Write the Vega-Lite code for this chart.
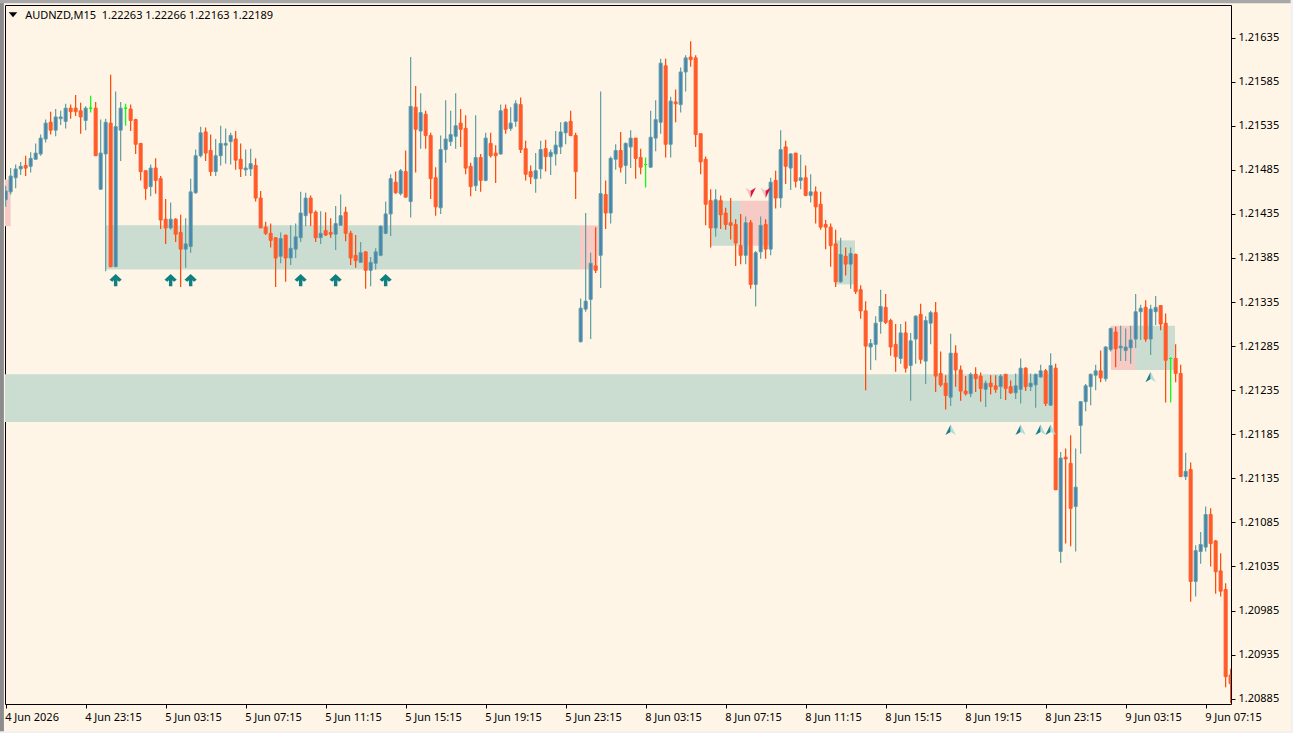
{
  "$schema": "https://vega.github.io/schema/vega-lite/v6.json",
  "description": "AUDNZD M15 candles",
  "autosize": "none",
  "width": 1226,
  "height": 699,
  "padding": {"left": 5, "top": 5, "right": 62, "bottom": 29},
  "background": "#FEF5E7",
  "config": {
    "view": {"stroke": "#000000", "strokeWidth": 1},
    "font": "Noto Sans",
    "axis": {"labelFont": "Noto Sans", "labelFontSize": 11, "labelColor": "#000000", "tickColor": "#000000", "domain": false, "grid": false, "title": null}
  },
  "datasets": {
    "candles": [
      {"bar":0,"open":1.21451,"high":1.21467,"low":1.21443,"close":1.21461,"dir":"up"},
      {"bar":1,"open":1.21460,"high":1.21487,"low":1.21457,"close":1.21478,"dir":"up"},
      {"bar":2,"open":1.21476,"high":1.21491,"low":1.21464,"close":1.21486,"dir":"up"},
      {"bar":3,"open":1.21486,"high":1.21494,"low":1.21479,"close":1.21489,"dir":"up"},
      {"bar":4,"open":1.21490,"high":1.21501,"low":1.21478,"close":1.21487,"dir":"down"},
      {"bar":5,"open":1.21489,"high":1.21505,"low":1.21482,"close":1.21498,"dir":"up"},
      {"bar":6,"open":1.21497,"high":1.21515,"low":1.21497,"close":1.21504,"dir":"up"},
      {"bar":7,"open":1.21503,"high":1.21525,"low":1.21501,"close":1.21521,"dir":"up"},
      {"bar":8,"open":1.21520,"high":1.21542,"low":1.21516,"close":1.21538,"dir":"up"},
      {"bar":9,"open":1.21539,"high":1.21551,"low":1.21525,"close":1.21530,"dir":"down"},
      {"bar":10,"open":1.21530,"high":1.21554,"low":1.21523,"close":1.21545,"dir":"up"},
      {"bar":11,"open":1.21543,"high":1.21552,"low":1.21536,"close":1.21545,"dir":"up"},
      {"bar":12,"open":1.21540,"high":1.21560,"low":1.21532,"close":1.21555,"dir":"up"},
      {"bar":13,"open":1.21555,"high":1.21559,"low":1.21543,"close":1.21551,"dir":"down"},
      {"bar":14,"open":1.21555,"high":1.21570,"low":1.21546,"close":1.21551,"dir":"down"},
      {"bar":15,"open":1.21552,"high":1.21561,"low":1.21526,"close":1.21545,"dir":"down"},
      {"bar":16,"open":1.21541,"high":1.21557,"low":1.21530,"close":1.21555,"dir":"up"},
      {"bar":17,"open":1.21555,"high":1.21569,"low":1.21550,"close":1.21555,"dir":"doji"},
      {"bar":18,"open":1.21555,"high":1.21562,"low":1.21501,"close":1.21501,"dir":"down"},
      {"bar":19,"open":1.21463,"high":1.21542,"low":1.21462,"close":1.21504,"dir":"up"},
      {"bar":20,"open":1.21503,"high":1.21543,"low":1.21370,"close":1.21539,"dir":"up"},
      {"bar":21,"open":1.21538,"high":1.21593,"low":1.21375,"close":1.21375,"dir":"down"},
      {"bar":22,"open":1.21375,"high":1.21574,"low":1.21375,"close":1.21534,"dir":"up"},
      {"bar":23,"open":1.21530,"high":1.21562,"low":1.21495,"close":1.21555,"dir":"up"},
      {"bar":24,"open":1.21555,"high":1.21560,"low":1.21535,"close":1.21555,"dir":"doji"},
      {"bar":25,"open":1.21554,"high":1.21559,"low":1.21529,"close":1.21541,"dir":"down"},
      {"bar":26,"open":1.21542,"high":1.21543,"low":1.21503,"close":1.21514,"dir":"down"},
      {"bar":27,"open":1.21515,"high":1.21515,"low":1.21473,"close":1.21483,"dir":"down"},
      {"bar":28,"open":1.21484,"high":1.21484,"low":1.21451,"close":1.21464,"dir":"down"},
      {"bar":29,"open":1.21466,"high":1.21491,"low":1.21455,"close":1.21487,"dir":"up"},
      {"bar":30,"open":1.21487,"high":1.21498,"low":1.21458,"close":1.21473,"dir":"down"},
      {"bar":31,"open":1.21475,"high":1.21478,"low":1.21418,"close":1.21428,"dir":"down"},
      {"bar":32,"open":1.21429,"high":1.21452,"low":1.21401,"close":1.21419,"dir":"down"},
      {"bar":33,"open":1.21419,"high":1.21448,"low":1.21417,"close":1.21429,"dir":"up"},
      {"bar":34,"open":1.21429,"high":1.21430,"low":1.21403,"close":1.21412,"dir":"down"},
      {"bar":35,"open":1.21414,"high":1.21434,"low":1.21352,"close":1.21395,"dir":"down"},
      {"bar":36,"open":1.21395,"high":1.21430,"low":1.21374,"close":1.21401,"dir":"up"},
      {"bar":37,"open":1.21398,"high":1.21475,"low":1.21391,"close":1.21460,"dir":"up"},
      {"bar":38,"open":1.21459,"high":1.21508,"low":1.21458,"close":1.21501,"dir":"up"},
      {"bar":39,"open":1.21501,"high":1.21534,"low":1.21499,"close":1.21527,"dir":"up"},
      {"bar":40,"open":1.21528,"high":1.21533,"low":1.21495,"close":1.21504,"dir":"down"},
      {"bar":41,"open":1.21507,"high":1.21525,"low":1.21478,"close":1.21483,"dir":"down"},
      {"bar":42,"open":1.21483,"high":1.21520,"low":1.21478,"close":1.21501,"dir":"up"},
      {"bar":43,"open":1.21501,"high":1.21535,"low":1.21490,"close":1.21515,"dir":"up"},
      {"bar":44,"open":1.21513,"high":1.21532,"low":1.21492,"close":1.21515,"dir":"up"},
      {"bar":45,"open":1.21517,"high":1.21527,"low":1.21491,"close":1.21524,"dir":"up"},
      {"bar":46,"open":1.21520,"high":1.21529,"low":1.21485,"close":1.21496,"dir":"down"},
      {"bar":47,"open":1.21497,"high":1.21515,"low":1.21477,"close":1.21486,"dir":"down"},
      {"bar":48,"open":1.21485,"high":1.21508,"low":1.21478,"close":1.21487,"dir":"up"},
      {"bar":49,"open":1.21486,"high":1.21509,"low":1.21478,"close":1.21492,"dir":"up"},
      {"bar":50,"open":1.21490,"high":1.21498,"low":1.21449,"close":1.21453,"dir":"down"},
      {"bar":51,"open":1.21453,"high":1.21461,"low":1.21419,"close":1.21419,"dir":"down"},
      {"bar":52,"open":1.21420,"high":1.21426,"low":1.21411,"close":1.21413,"dir":"down"},
      {"bar":53,"open":1.21413,"high":1.21424,"low":1.21397,"close":1.21405,"dir":"down"},
      {"bar":54,"open":1.21408,"high":1.21408,"low":1.21352,"close":1.21385,"dir":"down"},
      {"bar":55,"open":1.21387,"high":1.21414,"low":1.21379,"close":1.21407,"dir":"up"},
      {"bar":56,"open":1.21411,"high":1.21411,"low":1.21358,"close":1.21385,"dir":"down"},
      {"bar":57,"open":1.21385,"high":1.21422,"low":1.21377,"close":1.21396,"dir":"up"},
      {"bar":58,"open":1.21395,"high":1.21424,"low":1.21385,"close":1.21409,"dir":"up"},
      {"bar":59,"open":1.21408,"high":1.21460,"low":1.21403,"close":1.21436,"dir":"up"},
      {"bar":60,"open":1.21433,"high":1.21459,"low":1.21421,"close":1.21453,"dir":"up"},
      {"bar":61,"open":1.21453,"high":1.21456,"low":1.21421,"close":1.21436,"dir":"down"},
      {"bar":62,"open":1.21437,"high":1.21439,"low":1.21403,"close":1.21408,"dir":"down"},
      {"bar":63,"open":1.21408,"high":1.21438,"low":1.21401,"close":1.21413,"dir":"up"},
      {"bar":64,"open":1.21416,"high":1.21437,"low":1.21410,"close":1.21411,"dir":"down"},
      {"bar":65,"open":1.21414,"high":1.21430,"low":1.21408,"close":1.21412,"dir":"down"},
      {"bar":66,"open":1.21412,"high":1.21444,"low":1.21394,"close":1.21424,"dir":"up"},
      {"bar":67,"open":1.21422,"high":1.21457,"low":1.21422,"close":1.21433,"dir":"up"},
      {"bar":68,"open":1.21437,"high":1.21443,"low":1.21404,"close":1.21413,"dir":"down"},
      {"bar":69,"open":1.21413,"high":1.21416,"low":1.21377,"close":1.21385,"dir":"down"},
      {"bar":70,"open":1.21388,"high":1.21411,"low":1.21374,"close":1.21382,"dir":"down"},
      {"bar":71,"open":1.21380,"high":1.21403,"low":1.21380,"close":1.21391,"dir":"up"},
      {"bar":72,"open":1.21392,"high":1.21392,"low":1.21350,"close":1.21371,"dir":"down"},
      {"bar":73,"open":1.21371,"high":1.21386,"low":1.21353,"close":1.21380,"dir":"up"},
      {"bar":74,"open":1.21379,"high":1.21396,"low":1.21372,"close":1.21392,"dir":"up"},
      {"bar":75,"open":1.21388,"high":1.21422,"low":1.21387,"close":1.21421,"dir":"up"},
      {"bar":76,"open":1.21413,"high":1.21449,"low":1.21412,"close":1.21435,"dir":"up"},
      {"bar":77,"open":1.21435,"high":1.21480,"low":1.21410,"close":1.21475,"dir":"up"},
      {"bar":78,"open":1.21471,"high":1.21483,"low":1.21458,"close":1.21459,"dir":"down"},
      {"bar":79,"open":1.21458,"high":1.21486,"low":1.21456,"close":1.21484,"dir":"up"},
      {"bar":80,"open":1.21483,"high":1.21507,"low":1.21454,"close":1.21454,"dir":"down"},
      {"bar":81,"open":1.21449,"high":1.21613,"low":1.21431,"close":1.21557,"dir":"up"},
      {"bar":82,"open":1.21556,"high":1.21580,"low":1.21482,"close":1.21531,"dir":"down"},
      {"bar":83,"open":1.21529,"high":1.21572,"low":1.21509,"close":1.21550,"dir":"up"},
      {"bar":84,"open":1.21548,"high":1.21552,"low":1.21509,"close":1.21524,"dir":"down"},
      {"bar":85,"open":1.21524,"high":1.21527,"low":1.21452,"close":1.21475,"dir":"down"},
      {"bar":86,"open":1.21476,"high":1.21488,"low":1.21433,"close":1.21443,"dir":"down"},
      {"bar":87,"open":1.21442,"high":1.21524,"low":1.21435,"close":1.21508,"dir":"up"},
      {"bar":88,"open":1.21508,"high":1.21564,"low":1.21493,"close":1.21520,"dir":"up"},
      {"bar":89,"open":1.21517,"high":1.21552,"low":1.21512,"close":1.21525,"dir":"up"},
      {"bar":90,"open":1.21523,"high":1.21572,"low":1.21509,"close":1.21535,"dir":"up"},
      {"bar":91,"open":1.21538,"high":1.21554,"low":1.21511,"close":1.21531,"dir":"down"},
      {"bar":92,"open":1.21532,"high":1.21547,"low":1.21480,"close":1.21487,"dir":"down"},
      {"bar":93,"open":1.21489,"high":1.21493,"low":1.21455,"close":1.21466,"dir":"down"},
      {"bar":94,"open":1.21467,"high":1.21547,"low":1.21461,"close":1.21499,"dir":"up"},
      {"bar":95,"open":1.21499,"high":1.21503,"low":1.21460,"close":1.21473,"dir":"down"},
      {"bar":96,"open":1.21473,"high":1.21527,"low":1.21472,"close":1.21521,"dir":"up"},
      {"bar":97,"open":1.21515,"high":1.21527,"low":1.21499,"close":1.21501,"dir":"down"},
      {"bar":98,"open":1.21504,"high":1.21513,"low":1.21470,"close":1.21501,"dir":"down"},
      {"bar":99,"open":1.21503,"high":1.21559,"low":1.21502,"close":1.21552,"dir":"up"},
      {"bar":100,"open":1.21554,"high":1.21559,"low":1.21526,"close":1.21531,"dir":"down"},
      {"bar":101,"open":1.21532,"high":1.21556,"low":1.21529,"close":1.21538,"dir":"up"},
      {"bar":102,"open":1.21540,"high":1.21564,"low":1.21534,"close":1.21560,"dir":"up"},
      {"bar":103,"open":1.21559,"high":1.21567,"low":1.21504,"close":1.21508,"dir":"down"},
      {"bar":104,"open":1.21509,"high":1.21518,"low":1.21473,"close":1.21480,"dir":"down"},
      {"bar":105,"open":1.21483,"high":1.21490,"low":1.21469,"close":1.21477,"dir":"down"},
      {"bar":106,"open":1.21475,"high":1.21504,"low":1.21459,"close":1.21484,"dir":"up"},
      {"bar":107,"open":1.21486,"high":1.21518,"low":1.21475,"close":1.21508,"dir":"up"},
      {"bar":108,"open":1.21509,"high":1.21519,"low":1.21483,"close":1.21500,"dir":"down"},
      {"bar":109,"open":1.21500,"high":1.21508,"low":1.21479,"close":1.21505,"dir":"up"},
      {"bar":110,"open":1.21503,"high":1.21529,"low":1.21490,"close":1.21513,"dir":"up"},
      {"bar":111,"open":1.21511,"high":1.21539,"low":1.21503,"close":1.21528,"dir":"up"},
      {"bar":112,"open":1.21527,"high":1.21540,"low":1.21514,"close":1.21539,"dir":"up"},
      {"bar":113,"open":1.21540,"high":1.21552,"low":1.21523,"close":1.21524,"dir":"down"},
      {"bar":114,"open":1.21524,"high":1.21527,"low":1.21452,"close":1.21483,"dir":"down"},
      {"bar":115,"open":1.21290,"high":1.21339,"low":1.21289,"close":1.21328,"dir":"up"},
      {"bar":116,"open":1.21327,"high":1.21436,"low":1.21324,"close":1.21336,"dir":"up"},
      {"bar":117,"open":1.21338,"high":1.21391,"low":1.21293,"close":1.21379,"dir":"up"},
      {"bar":118,"open":1.21376,"high":1.21420,"low":1.21368,"close":1.21371,"dir":"down"},
      {"bar":119,"open":1.21388,"high":1.21574,"low":1.21351,"close":1.21458,"dir":"up"},
      {"bar":120,"open":1.21457,"high":1.21473,"low":1.21418,"close":1.21436,"dir":"down"},
      {"bar":121,"open":1.21436,"high":1.21500,"low":1.21424,"close":1.21498,"dir":"up"},
      {"bar":122,"open":1.21497,"high":1.21514,"low":1.21485,"close":1.21507,"dir":"up"},
      {"bar":123,"open":1.21507,"high":1.21528,"low":1.21482,"close":1.21488,"dir":"down"},
      {"bar":124,"open":1.21490,"high":1.21516,"low":1.21469,"close":1.21515,"dir":"up"},
      {"bar":125,"open":1.21511,"high":1.21530,"low":1.21487,"close":1.21521,"dir":"up"},
      {"bar":126,"open":1.21521,"high":1.21521,"low":1.21475,"close":1.21498,"dir":"down"},
      {"bar":127,"open":1.21499,"high":1.21509,"low":1.21480,"close":1.21488,"dir":"down"},
      {"bar":128,"open":1.21491,"high":1.21499,"low":1.21465,"close":1.21491,"dir":"doji"},
      {"bar":129,"open":1.21488,"high":1.21552,"low":1.21487,"close":1.21522,"dir":"up"},
      {"bar":130,"open":1.21521,"high":1.21564,"low":1.21506,"close":1.21542,"dir":"up"},
      {"bar":131,"open":1.21539,"high":1.21611,"low":1.21526,"close":1.21606,"dir":"up"},
      {"bar":132,"open":1.21603,"high":1.21611,"low":1.21499,"close":1.21514,"dir":"down"},
      {"bar":133,"open":1.21514,"high":1.21568,"low":1.21499,"close":1.21563,"dir":"up"},
      {"bar":134,"open":1.21562,"high":1.21576,"low":1.21539,"close":1.21560,"dir":"down"},
      {"bar":135,"open":1.21559,"high":1.21601,"low":1.21550,"close":1.21596,"dir":"up"},
      {"bar":136,"open":1.21596,"high":1.21615,"low":1.21574,"close":1.21612,"dir":"up"},
      {"bar":137,"open":1.21613,"high":1.21631,"low":1.21602,"close":1.21610,"dir":"down"},
      {"bar":138,"open":1.21612,"high":1.21615,"low":1.21511,"close":1.21525,"dir":"down"},
      {"bar":139,"open":1.21526,"high":1.21526,"low":1.21480,"close":1.21494,"dir":"down"},
      {"bar":140,"open":1.21497,"high":1.21500,"low":1.21422,"close":1.21446,"dir":"down"},
      {"bar":141,"open":1.21450,"high":1.21463,"low":1.21397,"close":1.21419,"dir":"down"},
      {"bar":142,"open":1.21419,"high":1.21463,"low":1.21409,"close":1.21451,"dir":"up"},
      {"bar":143,"open":1.21450,"high":1.21456,"low":1.21418,"close":1.21434,"dir":"down"},
      {"bar":144,"open":1.21436,"high":1.21442,"low":1.21417,"close":1.21423,"dir":"down"},
      {"bar":145,"open":1.21425,"high":1.21453,"low":1.21406,"close":1.21422,"dir":"down"},
      {"bar":146,"open":1.21423,"high":1.21429,"low":1.21376,"close":1.21402,"dir":"down"},
      {"bar":147,"open":1.21399,"high":1.21435,"low":1.21378,"close":1.21388,"dir":"down"},
      {"bar":148,"open":1.21388,"high":1.21432,"low":1.21378,"close":1.21425,"dir":"up"},
      {"bar":149,"open":1.21425,"high":1.21428,"low":1.21350,"close":1.21355,"dir":"down"},
      {"bar":150,"open":1.21355,"high":1.21393,"low":1.21330,"close":1.21391,"dir":"up"},
      {"bar":151,"open":1.21392,"high":1.21432,"low":1.21384,"close":1.21422,"dir":"up"},
      {"bar":152,"open":1.21423,"high":1.21429,"low":1.21384,"close":1.21395,"dir":"down"},
      {"bar":153,"open":1.21395,"high":1.21476,"low":1.21388,"close":1.21471,"dir":"up"},
      {"bar":154,"open":1.21473,"high":1.21484,"low":1.21441,"close":1.21453,"dir":"down"},
      {"bar":155,"open":1.21453,"high":1.21530,"low":1.21442,"close":1.21508,"dir":"up"},
      {"bar":156,"open":1.21511,"high":1.21518,"low":1.21469,"close":1.21489,"dir":"down"},
      {"bar":157,"open":1.21487,"high":1.21504,"low":1.21462,"close":1.21503,"dir":"up"},
      {"bar":158,"open":1.21504,"high":1.21504,"low":1.21465,"close":1.21472,"dir":"down"},
      {"bar":159,"open":1.21473,"high":1.21502,"low":1.21463,"close":1.21476,"dir":"up"},
      {"bar":160,"open":1.21476,"high":1.21490,"low":1.21455,"close":1.21456,"dir":"down"},
      {"bar":161,"open":1.21456,"high":1.21480,"low":1.21448,"close":1.21460,"dir":"up"},
      {"bar":162,"open":1.21460,"high":1.21466,"low":1.21424,"close":1.21443,"dir":"down"},
      {"bar":163,"open":1.21446,"high":1.21460,"low":1.21417,"close":1.21420,"dir":"down"},
      {"bar":164,"open":1.21423,"high":1.21428,"low":1.21395,"close":1.21420,"dir":"down"},
      {"bar":165,"open":1.21420,"high":1.21424,"low":1.21375,"close":1.21399,"dir":"down"},
      {"bar":166,"open":1.21401,"high":1.21417,"low":1.21352,"close":1.21358,"dir":"down"},
      {"bar":167,"open":1.21358,"high":1.21408,"low":1.21357,"close":1.21389,"dir":"up"},
      {"bar":168,"open":1.21387,"high":1.21397,"low":1.21365,"close":1.21378,"dir":"down"},
      {"bar":169,"open":1.21378,"high":1.21397,"low":1.21350,"close":1.21390,"dir":"up"},
      {"bar":170,"open":1.21389,"high":1.21390,"low":1.21344,"close":1.21347,"dir":"down"},
      {"bar":171,"open":1.21349,"high":1.21354,"low":1.21316,"close":1.21325,"dir":"down"},
      {"bar":172,"open":1.21325,"high":1.21336,"low":1.21235,"close":1.21285,"dir":"down"},
      {"bar":173,"open":1.21284,"high":1.21293,"low":1.21258,"close":1.21288,"dir":"up"},
      {"bar":174,"open":1.21287,"high":1.21319,"low":1.21269,"close":1.21311,"dir":"up"},
      {"bar":175,"open":1.21313,"high":1.21349,"low":1.21299,"close":1.21330,"dir":"up"},
      {"bar":176,"open":1.21329,"high":1.21344,"low":1.21310,"close":1.21312,"dir":"down"},
      {"bar":177,"open":1.21314,"high":1.21316,"low":1.21274,"close":1.21284,"dir":"down"},
      {"bar":178,"open":1.21287,"high":1.21310,"low":1.21256,"close":1.21273,"dir":"down"},
      {"bar":179,"open":1.21271,"high":1.21310,"low":1.21265,"close":1.21300,"dir":"up"},
      {"bar":180,"open":1.21300,"high":1.21313,"low":1.21255,"close":1.21260,"dir":"down"},
      {"bar":181,"open":1.21263,"high":1.21300,"low":1.21223,"close":1.21291,"dir":"up"},
      {"bar":182,"open":1.21293,"high":1.21320,"low":1.21265,"close":1.21319,"dir":"up"},
      {"bar":183,"open":1.21321,"high":1.21333,"low":1.21265,"close":1.21270,"dir":"down"},
      {"bar":184,"open":1.21268,"high":1.21319,"low":1.21242,"close":1.21314,"dir":"up"},
      {"bar":185,"open":1.21311,"high":1.21325,"low":1.21287,"close":1.21323,"dir":"up"},
      {"bar":186,"open":1.21323,"high":1.21335,"low":1.21233,"close":1.21251,"dir":"down"},
      {"bar":187,"open":1.21254,"high":1.21279,"low":1.21239,"close":1.21241,"dir":"down"},
      {"bar":188,"open":1.21243,"high":1.21252,"low":1.21213,"close":1.21229,"dir":"down"},
      {"bar":189,"open":1.21227,"high":1.21299,"low":1.21217,"close":1.21277,"dir":"up"},
      {"bar":190,"open":1.21277,"high":1.21286,"low":1.21239,"close":1.21258,"dir":"down"},
      {"bar":191,"open":1.21258,"high":1.21263,"low":1.21223,"close":1.21234,"dir":"down"},
      {"bar":192,"open":1.21234,"high":1.21251,"low":1.21229,"close":1.21231,"dir":"down"},
      {"bar":193,"open":1.21231,"high":1.21255,"low":1.21227,"close":1.21253,"dir":"up"},
      {"bar":194,"open":1.21253,"high":1.21261,"low":1.21233,"close":1.21248,"dir":"down"},
      {"bar":195,"open":1.21251,"high":1.21255,"low":1.21222,"close":1.21237,"dir":"down"},
      {"bar":196,"open":1.21236,"high":1.21246,"low":1.21216,"close":1.21243,"dir":"up"},
      {"bar":197,"open":1.21243,"high":1.21252,"low":1.21230,"close":1.21239,"dir":"down"},
      {"bar":198,"open":1.21240,"high":1.21252,"low":1.21232,"close":1.21236,"dir":"down"},
      {"bar":199,"open":1.21239,"high":1.21253,"low":1.21225,"close":1.21251,"dir":"up"},
      {"bar":200,"open":1.21253,"high":1.21253,"low":1.21224,"close":1.21237,"dir":"down"},
      {"bar":201,"open":1.21239,"high":1.21246,"low":1.21231,"close":1.21232,"dir":"down"},
      {"bar":202,"open":1.21232,"high":1.21254,"low":1.21225,"close":1.21240,"dir":"up"},
      {"bar":203,"open":1.21236,"high":1.21271,"low":1.21220,"close":1.21260,"dir":"up"},
      {"bar":204,"open":1.21260,"high":1.21261,"low":1.21234,"close":1.21239,"dir":"down"},
      {"bar":205,"open":1.21239,"high":1.21254,"low":1.21234,"close":1.21243,"dir":"up"},
      {"bar":206,"open":1.21241,"high":1.21254,"low":1.21215,"close":1.21253,"dir":"up"},
      {"bar":207,"open":1.21250,"high":1.21264,"low":1.21249,"close":1.21257,"dir":"up"},
      {"bar":208,"open":1.21257,"high":1.21259,"low":1.21217,"close":1.21220,"dir":"down"},
      {"bar":209,"open":1.21218,"high":1.21277,"low":1.21217,"close":1.21263,"dir":"up"},
      {"bar":210,"open":1.21260,"high":1.21265,"low":1.21122,"close":1.21122,"dir":"down"},
      {"bar":211,"open":1.21052,"high":1.21165,"low":1.21039,"close":1.21158,"dir":"up"},
      {"bar":212,"open":1.21159,"high":1.21169,"low":1.21061,"close":1.21157,"dir":"down"},
      {"bar":213,"open":1.21152,"high":1.21184,"low":1.21058,"close":1.21101,"dir":"down"},
      {"bar":214,"open":1.21103,"high":1.21169,"low":1.21052,"close":1.21125,"dir":"up"},
      {"bar":215,"open":1.21195,"high":1.21222,"low":1.21163,"close":1.21222,"dir":"up"},
      {"bar":216,"open":1.21222,"high":1.21242,"low":1.21211,"close":1.21240,"dir":"up"},
      {"bar":217,"open":1.21239,"high":1.21254,"low":1.21218,"close":1.21253,"dir":"up"},
      {"bar":218,"open":1.21252,"high":1.21264,"low":1.21235,"close":1.21257,"dir":"up"},
      {"bar":219,"open":1.21257,"high":1.21280,"low":1.21244,"close":1.21249,"dir":"down"},
      {"bar":220,"open":1.21248,"high":1.21285,"low":1.21245,"close":1.21284,"dir":"up"},
      {"bar":221,"open":1.21281,"high":1.21306,"low":1.21279,"close":1.21305,"dir":"up"},
      {"bar":222,"open":1.21301,"high":1.21307,"low":1.21261,"close":1.21282,"dir":"down"},
      {"bar":223,"open":1.21283,"high":1.21308,"low":1.21268,"close":1.21285,"dir":"up"},
      {"bar":224,"open":1.21280,"high":1.21305,"low":1.21268,"close":1.21284,"dir":"up"},
      {"bar":225,"open":1.21283,"high":1.21308,"low":1.21265,"close":1.21292,"dir":"up"},
      {"bar":226,"open":1.21293,"high":1.21344,"low":1.21283,"close":1.21324,"dir":"up"},
      {"bar":227,"open":1.21324,"high":1.21332,"low":1.21292,"close":1.21328,"dir":"up"},
      {"bar":228,"open":1.21329,"high":1.21337,"low":1.21290,"close":1.21293,"dir":"down"},
      {"bar":229,"open":1.21293,"high":1.21332,"low":1.21275,"close":1.21327,"dir":"up"},
      {"bar":230,"open":1.21324,"high":1.21342,"low":1.21309,"close":1.21329,"dir":"up"},
      {"bar":231,"open":1.21331,"high":1.21331,"low":1.21303,"close":1.21310,"dir":"down"},
      {"bar":232,"open":1.21311,"high":1.21322,"low":1.21221,"close":1.21269,"dir":"down"},
      {"bar":233,"open":1.21271,"high":1.21272,"low":1.21221,"close":1.21271,"dir":"doji"},
      {"bar":234,"open":1.21271,"high":1.21287,"low":1.21244,"close":1.21254,"dir":"down"},
      {"bar":235,"open":1.21254,"high":1.21264,"low":1.21137,"close":1.21137,"dir":"down"},
      {"bar":236,"open":1.21137,"high":1.21164,"low":1.21133,"close":1.21143,"dir":"up"},
      {"bar":237,"open":1.21145,"high":1.21153,"low":1.20995,"close":1.21018,"dir":"down"},
      {"bar":238,"open":1.21018,"high":1.21059,"low":1.21001,"close":1.21053,"dir":"up"},
      {"bar":239,"open":1.21052,"high":1.21074,"low":1.21038,"close":1.21060,"dir":"up"},
      {"bar":240,"open":1.21057,"high":1.21103,"low":1.21052,"close":1.21094,"dir":"up"},
      {"bar":241,"open":1.21094,"high":1.21101,"low":1.21035,"close":1.21061,"dir":"down"},
      {"bar":242,"open":1.21064,"high":1.21065,"low":1.21004,"close":1.21029,"dir":"down"},
      {"bar":243,"open":1.21030,"high":1.21050,"low":1.21001,"close":1.21007,"dir":"down"},
      {"bar":244,"open":1.21009,"high":1.21016,"low":1.20898,"close":1.20910,"dir":"down"},
      {"bar":245,"open":1.20912,"high":1.20919,"low":1.20880,"close":1.20902,"dir":"down"}
    ],
    "zones": [
      {"from":-0.13,"to":1.0,"top":1.21474,"bottom":1.21421,"kind":"pink"},
      {"from":20.07,"to":114.87,"top":1.21422,"bottom":1.21372,"kind":"green"},
      {"from":114.87,"to":118.47,"top":1.21422,"bottom":1.21372,"kind":"pink"},
      {"from":-0.13,"to":209.47,"top":1.21253,"bottom":1.21199,"kind":"green"},
      {"from":141.07,"to":146.87,"top":1.21450,"bottom":1.21399,"kind":"green"},
      {"from":146.87,"to":152.87,"top":1.21450,"bottom":1.21399,"kind":"pink"},
      {"from":165.87,"to":169.87,"top":1.21405,"bottom":1.21355,"kind":"green"},
      {"from":221.07,"to":225.87,"top":1.21308,"bottom":1.21258,"kind":"pink"},
      {"from":225.87,"to":233.87,"top":1.21308,"bottom":1.21258,"kind":"green"}
    ],
    "edges": [
      {"from":-1.2,"to":-0.35,"top":1.2168,"bottom":1.2084,"kind":"left"},
      {"from":-1.2,"to":259,"top":1.2168,"bottom":1.21674,"kind":"top"},
      {"from":-1.2,"to":259,"top":1.20848,"bottom":1.2084,"kind":"outer"},
      {"from":257,"to":259,"top":1.2168,"bottom":1.2084,"kind":"outer"}
    ],
    "arrows": [
      {"bar":22,"price":1.2136},
      {"bar":33,"price":1.2136},
      {"bar":37,"price":1.2136},
      {"bar":59,"price":1.2136},
      {"bar":66,"price":1.2136},
      {"bar":76,"price":1.2136}
    ],
    "buySignals": [
      {"bar":189,"price":1.2119},
      {"bar":203,"price":1.2119},
      {"bar":207,"price":1.2119},
      {"bar":209,"price":1.2119},
      {"bar":229,"price":1.2125}
    ],
    "sellSignals": [
      {"bar":149,"price":1.21459},
      {"bar":152,"price":1.21459}
    ]
  },
  "encoding": {
    "x": {
      "field": "bar",
      "type": "quantitative",
      "scale": {"domain": [-0.13, 245.07], "nice": false, "zero": false, "padding": 0},
      "axis": {
        "values": [0,16,32,48,64,80,96,112,128,144,160,176,192,208,224,240],
        "labelExpr": "['4 Jun 2026','4 Jun 23:15','5 Jun 03:15','5 Jun 07:15','5 Jun 11:15','5 Jun 15:15','5 Jun 19:15','5 Jun 23:15','8 Jun 03:15','8 Jun 07:15','8 Jun 11:15','8 Jun 15:15','8 Jun 19:15','8 Jun 23:15','9 Jun 03:15','9 Jun 07:15'][datum.value / 16]",
        "labelAlign": "left",
        "labelOffset": -1,
        "labelPadding": 3,
        "labelFlush": false,
        "labelOverlap": false,
        "tickSize": 4
      }
    },
    "y": {
      "type": "quantitative",
      "scale": {"domain": [1.20879, 1.21672], "nice": false, "zero": false},
      "axis": {
        "orient": "right",
        "values": [1.21635,1.21585,1.21535,1.21485,1.21435,1.21385,1.21335,1.21285,1.21235,1.21185,1.21135,1.21085,1.21035,1.20985,1.20935,1.20885],
        "format": ".5f",
        "labelPadding": 3,
        "labelOverlap": false,
        "labelFlush": false,
        "tickSize": 4
      }
    }
  },
  "layer": [
    {
      "data": {"name": "edges"},
      "mark": {"type": "rect", "clip": false},
      "encoding": {
        "x": {"field": "from", "type": "quantitative"},
        "x2": {"field": "to"},
        "y": {"field": "top", "type": "quantitative"},
        "y2": {"field": "bottom"},
        "color": {
          "field": "kind",
          "type": "nominal",
          "legend": null,
          "scale": {"domain": ["left", "top", "outer"], "range": ["#8C8C8C", "#A8A8A8", "#F0F0F0"]}
        }
      }
    },
    {
      "data": {"name": "zones"},
      "mark": {"type": "rect", "clip": true},
      "encoding": {
        "x": {"field": "from", "type": "quantitative"},
        "x2": {"field": "to"},
        "y": {"field": "top", "type": "quantitative"},
        "y2": {"field": "bottom"},
        "color": {
          "field": "kind",
          "type": "nominal",
          "legend": null,
          "scale": {"domain": ["green", "pink"], "range": ["#CBDDD1", "#F6CBC6"]}
        }
      }
    },
    {
      "data": {"name": "candles"},
      "mark": {"type": "rule", "strokeWidth": 1.2, "clip": true},
      "encoding": {
        "y": {"field": "high", "type": "quantitative"},
        "y2": {"field": "low"},
        "color": {
          "field": "dir",
          "type": "nominal",
          "legend": null,
          "scale": {"domain": ["up", "down", "doji"], "range": ["#5F9EA0", "#FF4500", "#00FF00"]}
        }
      }
    },
    {
      "data": {"name": "candles"},
      "mark": {"type": "bar", "size": 3, "strokeWidth": 1, "clip": true},
      "encoding": {
        "y": {"field": "open", "type": "quantitative"},
        "y2": {"field": "close"},
        "color": {
          "field": "dir",
          "type": "nominal",
          "legend": null,
          "scale": {"domain": ["up", "down", "doji"], "range": ["#4682B4", "#FF5A28", "#00FF00"]}
        },
        "stroke": {
          "field": "dir",
          "type": "nominal",
          "legend": null,
          "scale": {"domain": ["up", "down", "doji"], "range": ["#5F9EA0", "#FF5A28", "#00FF00"]}
        }
      }
    },
    {
      "data": {"name": "arrows"},
      "mark": {
        "type": "point",
        "filled": true,
        "opacity": 1,
        "size": 150,
        "color": "#0F7F80",
        "shape": "M0 -1 L1 -0.05 L0.55 0.3 L0.28 0.05 L0.28 1 L-0.28 1 L-0.28 0.05 L-0.55 0.3 L-1 -0.05 Z"
      },
      "encoding": {"y": {"field": "price", "type": "quantitative"}}
    },
    {
      "data": {"name": "buySignals"},
      "mark": {"type": "point", "filled": true, "opacity": 1, "size": 110, "color": "#1A7F86", "shape": "M0 -1 L-1 1 L0 0.4 Z"},
      "encoding": {"y": {"field": "price", "type": "quantitative"}}
    },
    {
      "data": {"name": "buySignals"},
      "mark": {"type": "point", "filled": true, "opacity": 1, "size": 110, "color": "#B5DCDC", "shape": "M0 -1 L1 1 L0 0.4 Z"},
      "encoding": {"y": {"field": "price", "type": "quantitative"}}
    },
    {
      "data": {"name": "sellSignals"},
      "mark": {"type": "point", "filled": true, "opacity": 1, "size": 110, "color": "#F3C6C6", "shape": "M0 1 L-1 -1 L0 -0.4 Z"},
      "encoding": {"y": {"field": "price", "type": "quantitative"}}
    },
    {
      "data": {"name": "sellSignals"},
      "mark": {"type": "point", "filled": true, "opacity": 1, "size": 110, "color": "#DC143C", "shape": "M0 1 L1 -1 L0 -0.4 Z"},
      "encoding": {"y": {"field": "price", "type": "quantitative"}}
    },
    {
      "data": {"values": [{"bar": 1.47, "price": 1.21661}]},
      "mark": {"type": "point", "filled": true, "opacity": 1, "size": 72, "color": "#000000", "shape": "M-1 -0.6 L1 -0.6 L0 0.6 Z"},
      "encoding": {"y": {"field": "price", "type": "quantitative"}}
    },
    {
      "data": {"values": [{"bar": 3.9, "price": 1.2166, "label": "AUDNZD,M15\u00a0\u00a01.22263 1.22266 1.22163 1.22189"}]},
      "mark": {"type": "text", "align": "left", "baseline": "middle", "font": "Noto Sans", "fontSize": 11, "color": "#000000"},
      "encoding": {
        "y": {"field": "price", "type": "quantitative"},
        "text": {"field": "label"}
      }
    }
  ],
  "resolve": {"scale": {"color": "independent"}}
}
